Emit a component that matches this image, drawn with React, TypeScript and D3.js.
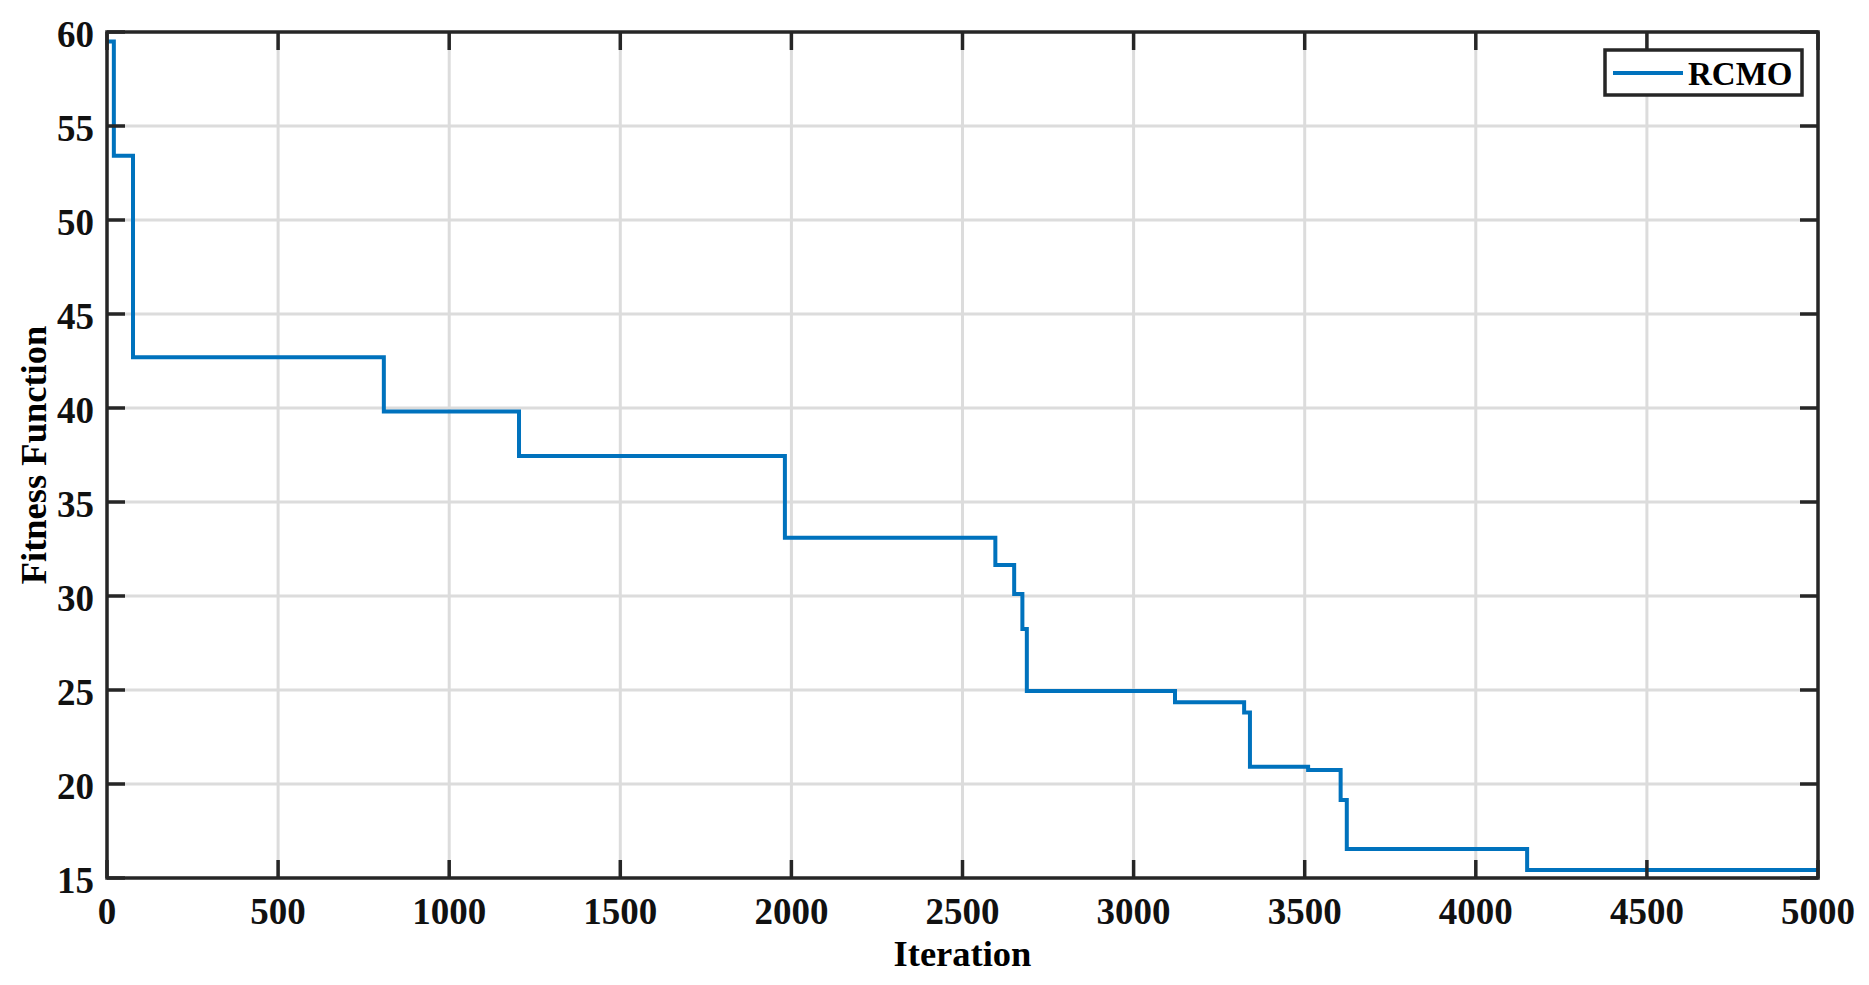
import React from "react";
import * as d3 from "d3";

const stepIter = [1, 20, 76, 809, 1204, 1981, 2596, 2651, 2675, 2688, 3121, 3323, 3340, 3510, 3605, 3623, 4150, 5000];
const fitness = [59.5, 53.42, 42.7, 39.82, 37.45, 33.1, 31.65, 30.1, 28.25, 24.95, 24.35, 23.8, 20.92, 20.74, 19.15, 16.54, 15.43, 15.43];
const xTicks = [0, 500, 1000, 1500, 2000, 2500, 3000, 3500, 4000, 4500, 5000];
const yTicks = [15, 20, 25, 30, 35, 40, 45, 50, 55, 60];
const seriesName = "RCMO";
const xLabel = "Iteration";
const yLabel = "Fitness Function";

const W = 1869;
const H = 985;
const L = 107, R = 1818, T = 32, B = 878;
const FONT = "'Liberation Serif', 'Times New Roman', serif";
const AX = "#262626";

export default function App() {
  const x = d3.scaleLinear().domain([0, 5000]).range([L, R]);
  const y = d3.scaleLinear().domain([15, 60]).range([B, T]);
  const pts: [number, number][] = stepIter.map((it, i) => [it, fitness[i]]);
  const line = d3
    .line<[number, number]>()
    .x((d) => x(d[0]))
    .y((d) => y(d[1]))
    .curve(d3.curveStepAfter);
  const tl = 18;
  return (
    <svg
      width={W}
      height={H}
      style={{ position: "absolute", left: 0, top: 0, display: "block", background: "#fff" }}
      fontFamily={FONT}
      fontWeight="bold"
    >
      <rect x={0} y={0} width={W} height={H} fill="#fff" />
      {xTicks.slice(1, -1).map((t) => (
        <line key={"gx" + t} x1={x(t)} x2={x(t)} y1={T} y2={B} stroke="#dcdcdc" strokeWidth={3} />
      ))}
      {yTicks.slice(1, -1).map((t) => (
        <line key={"gy" + t} x1={L} x2={R} y1={y(t)} y2={y(t)} stroke="#dcdcdc" strokeWidth={3} />
      ))}
      <path d={line(pts) || ""} fill="none" stroke="#0072BD" strokeWidth={4} />
      {xTicks.map((t) => (
        <g key={"tx" + t}>
          <line x1={x(t)} x2={x(t)} y1={B} y2={B - tl} stroke={AX} strokeWidth={3.5} />
          <line x1={x(t)} x2={x(t)} y1={T} y2={T + tl} stroke={AX} strokeWidth={3.5} />
          <text x={x(t)} y={924} textAnchor="middle" fontSize={37} fill="#111">
            {t}
          </text>
        </g>
      ))}
      {yTicks.map((t) => (
        <g key={"ty" + t}>
          <line x1={L} x2={L + tl} y1={y(t)} y2={y(t)} stroke={AX} strokeWidth={3.5} />
          <line x1={R} x2={R - tl} y1={y(t)} y2={y(t)} stroke={AX} strokeWidth={3.5} />
          <text x={94} y={y(t) + 15} textAnchor="end" fontSize={37} fill="#111">
            {t}
          </text>
        </g>
      ))}
      <rect x={L} y={T} width={R - L} height={B - T} fill="none" stroke={AX} strokeWidth={3.5} />
      <text x={(L + R) / 2} y={966} textAnchor="middle" fontSize={36.5} fill="#000">
        {xLabel}
      </text>
      <text
        transform={`translate(46, ${(T + B) / 2}) rotate(-90)`}
        textAnchor="middle"
        fontSize={36.5}
        fill="#000"
      >
        {yLabel}
      </text>
      <rect x={1605} y={50} width={197} height={45} fill="#fff" stroke={AX} strokeWidth={3.5} />
      <line x1={1613} x2={1683} y1={73} y2={73} stroke="#0072BD" strokeWidth={4} />
      <text x={1688} y={85} fontSize={33} fill="#000">
        {seriesName}
      </text>
    </svg>
  );
}
